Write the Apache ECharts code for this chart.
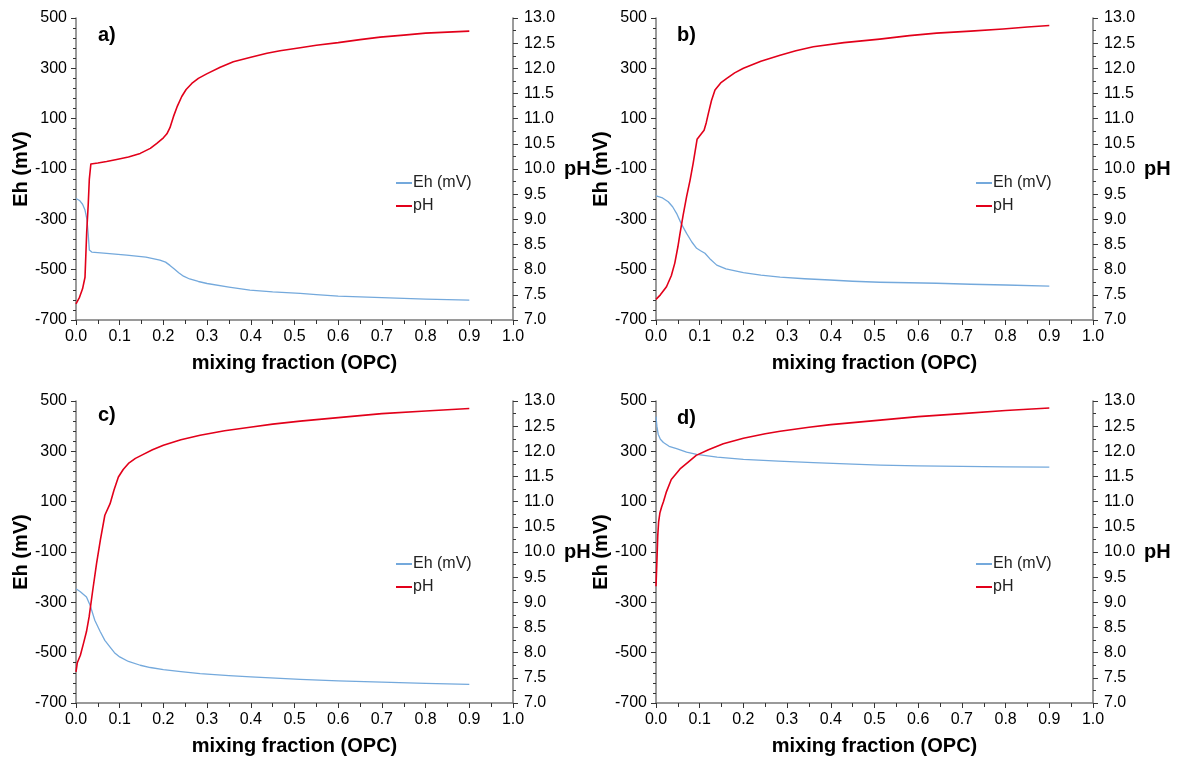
<!DOCTYPE html>
<html><head><meta charset="utf-8">
<script src="https://cdn.jsdelivr.net/npm/echarts@6/dist/echarts.min.js"></script>
<style>html,body{margin:0;padding:0;background:#fff}#c{width:1178px;height:760px}</style>
</head><body><div id="c"></div>
<script>
// ---------- data (mixing fraction, Eh in mV, pH) ----------
const aEhX = [0,0.008,0.015,0.0206,0.025,0.028,0.0305,0.036,0.07,0.116,0.16,0.192,0.205,0.215,0.225,0.235,0.246,0.26,0.28,0.3,0.35,0.398,0.45,0.513,0.55,0.6,0.7,0.8,0.9];
const aEh  = [-217,-225,-240,-263,-300,-360,-422,-430,-435,-442,-450,-462,-470,-483,-497,-512,-526,-537,-547,-555,-569,-581,-588,-594,-599,-605,-611,-617,-621];
const aPhX = [0,0.008,0.015,0.0206,0.0245,0.028,0.0305,0.034,0.05,0.07,0.093,0.12,0.147,0.17,0.185,0.2,0.208,0.215,0.223,0.232,0.242,0.252,0.265,0.28,0.299,0.33,0.36,0.4,0.437,0.467,0.513,0.55,0.6,0.65,0.696,0.75,0.8,0.85,0.9];
const aPh  = [7.32,7.45,7.62,7.85,8.75,9.3,9.8,10.10,10.12,10.15,10.19,10.24,10.31,10.41,10.51,10.62,10.70,10.82,11.04,11.25,11.44,11.58,11.70,11.80,11.89,12.02,12.13,12.22,12.30,12.35,12.41,12.46,12.51,12.57,12.62,12.66,12.70,12.72,12.74];

const bEhX = [0,0.015,0.028,0.038,0.047,0.058,0.07,0.082,0.093,0.102,0.112,0.125,0.139,0.16,0.2,0.24,0.284,0.34,0.398,0.45,0.512,0.58,0.642,0.72,0.8,0.9];
const bEh  = [-207,-215,-230,-250,-276,-318,-356,-390,-415,-425,-435,-460,-482,-497,-512,-522,-530,-536,-541,-546,-550,-552,-554,-558,-561,-565];
const bPhX = [0,0.01,0.024,0.035,0.043,0.05,0.055,0.062,0.07,0.078,0.085,0.094,0.102,0.11,0.115,0.12,0.127,0.135,0.148,0.162,0.18,0.2,0.24,0.284,0.32,0.36,0.43,0.512,0.58,0.642,0.72,0.794,0.85,0.9];
const bPh  = [7.41,7.5,7.66,7.88,8.13,8.45,8.72,9.08,9.45,9.78,10.11,10.59,10.68,10.77,10.92,11.11,11.36,11.57,11.71,11.80,11.91,12.00,12.14,12.26,12.35,12.43,12.51,12.58,12.65,12.70,12.74,12.78,12.82,12.85];

const cEhX = [0,0.01,0.024,0.033,0.043,0.055,0.066,0.078,0.088,0.1,0.12,0.147,0.17,0.2,0.24,0.284,0.35,0.4,0.513,0.6,0.7,0.8,0.9];
const cEh  = [-246,-258,-279,-315,-371,-415,-451,-478,-500,-517,-535,-550,-559,-567,-575,-583,-591,-596,-606,-612,-617,-622,-626];
const cPhX = [0,0.003,0.01,0.017,0.024,0.03,0.038,0.047,0.056,0.066,0.078,0.087,0.097,0.108,0.12,0.136,0.154,0.175,0.2,0.24,0.284,0.34,0.398,0.45,0.513,0.6,0.7,0.8,0.9];
const cPh  = [7.62,7.8,7.95,8.18,8.42,8.71,9.22,9.77,10.25,10.73,10.96,11.23,11.49,11.64,11.76,11.86,11.94,12.03,12.12,12.23,12.32,12.41,12.48,12.54,12.60,12.67,12.75,12.80,12.85];

const dEhX = [0,0.002,0.005,0.01,0.017,0.03,0.047,0.07,0.093,0.14,0.2,0.28,0.36,0.45,0.513,0.6,0.7,0.8,0.9];
const dEh  = [438,400,368,348,335,320,311,297,288,277,268,261,255,249,245,242,240,238,237];
const dPhX = [0,0.002,0.004,0.006,0.009,0.013,0.017,0.024,0.035,0.055,0.073,0.092,0.12,0.154,0.2,0.25,0.284,0.35,0.4,0.513,0.6,0.7,0.8,0.9];
const dPh  = [9.32,9.8,10.32,10.6,10.78,10.9,11.0,11.2,11.44,11.65,11.78,11.92,12.03,12.15,12.26,12.35,12.40,12.48,12.53,12.62,12.69,12.75,12.81,12.86];

const panelLabels = ['a)','b)','c)','d)'];
const seriesNames = ['Eh (mV)','pH'];
const ehTicks = [-700,-500,-300,-100,100,300,500];
const ehMinorTicks = [-660,-620,-580,-540,-460,-420,-380,-340,-260,-220,-180,-140,-60,-20,20,60,140,180,220,260,340,380,420,460];
const xTitle = 'mixing fraction (OPC)';
const ehTitle = 'Eh (mV)';
const phTitle = 'pH';

// ---------- layout ----------
const FONT = '"Liberation Sans", Arial, sans-serif';
const BLUE = '#74a9dc', RED = '#e2001a', AX = '#7a7a7a', TK = '#333';
const geo = [
  {left:391, top:18, lx:391, ly:170, tx:98, ty:25},
  {left:656, top:18, lx:971, ly:170, tx:677, ty:25},
  {left:76, top:401, lx:391, ly:551, tx:98, ty:405},
  {left:656, top:401, lx:971, ly:551, tx:677, ty:408}
];
geo[0].left = 76;
const W = 437, H = 302;
const dataSets = [[aEhX,aEh,aPhX,aPh],[bEhX,bEh,bPhX,bPh],[cEhX,cEh,cPhX,cPh],[dEhX,dEh,dPhX,dPh]];
const zip = (xs, ys) => xs.map((x,i) => [x, ys[i]]);

const grid=[], xAxis=[], yAxis=[], series=[], legend=[], graphic=[];
geo.forEach((g,i) => {
  grid.push({left:g.left, top:g.top, width:W, height:H, containLabel:false});
  xAxis.push({
    type:'value', gridIndex:i, min:0, max:1, interval:0.1,
    name:xTitle, nameLocation:'middle', nameGap:33,
    nameTextStyle:{fontFamily:FONT, fontSize:20, fontWeight:'bold', color:'#000'},
    axisLine:{show:true, onZero:false, lineStyle:{color:AX, width:1.5}},
    axisTick:{show:true, length:5, lineStyle:{color:TK}},
    minorTick:{show:true, splitNumber:2, length:4, lineStyle:{color:TK}},
    splitLine:{show:false},
    axisLabel:{fontFamily:FONT, fontSize:16, color:'#000', margin:9, formatter:v=>v.toFixed(1)}
  });
  const base = yAxis.length;
  yAxis.push({
    type:'value', gridIndex:i, position:'left', min:-700, max:500, interval:20,
    name:ehTitle, nameLocation:'middle', nameGap:45,
    nameTextStyle:{fontFamily:FONT, fontSize:20, fontWeight:'bold', color:'#000'},
    axisLine:{show:true, onZero:false, lineStyle:{color:AX, width:1.5}},
    axisTick:{show:true, length:5, customValues:ehTicks, lineStyle:{color:TK}},
    splitLine:{show:false},
    axisLabel:{fontFamily:FONT, fontSize:16, color:'#000', margin:9, customValues:ehTicks}
  });
  yAxis.push({
    type:'value', gridIndex:i, position:'left', min:-700, max:500, interval:20,
    axisLine:{show:false},
    axisTick:{show:true, length:3, customValues:ehMinorTicks, lineStyle:{color:TK}},
    splitLine:{show:false},
    axisLabel:{show:false}
  });
  yAxis.push({
    type:'value', gridIndex:i, position:'right', min:7, max:13, interval:0.5,
    name:phTitle, nameLocation:'middle', nameGap:51, nameRotate:0,
    nameTextStyle:{fontFamily:FONT, fontSize:20, fontWeight:'bold', color:'#000'},
    axisLine:{show:true, onZero:false, lineStyle:{color:AX, width:1.5}},
    axisTick:{show:true, length:5, lineStyle:{color:TK}},
    minorTick:{show:true, splitNumber:2, length:3, lineStyle:{color:TK}},
    splitLine:{show:false},
    axisLabel:{fontFamily:FONT, fontSize:16, color:'#000', margin:11, formatter:v=>v.toFixed(1)}
  });
  const [ex,ey,px,py] = dataSets[i];
  series.push({
    name:seriesNames[0], type:'line', xAxisIndex:i, yAxisIndex:base,
    data:zip(ex,ey), showSymbol:false, symbol:'none', smooth:false,
    lineStyle:{color:BLUE, width:1.3, join:'round'}, itemStyle:{color:BLUE}, z:2
  });
  series.push({
    name:seriesNames[1], type:'line', xAxisIndex:i, yAxisIndex:base+2,
    data:zip(px,py), showSymbol:false, symbol:'none', smooth:false,
    lineStyle:{color:RED, width:1.6, join:'round'}, itemStyle:{color:RED}, z:3
  });
  legend.push({
    left:g.lx, top:g.ly, orient:'vertical', itemGap:7, itemWidth:16, itemHeight:2,
    icon:'rect', selectedMode:false,
    textStyle:{fontFamily:FONT, fontSize:16, color:'#222', padding:[0,0,0,-4]},
    data:seriesNames
  });
  graphic.push({
    type:'text', left:g.tx, top:g.ty,
    style:{text:panelLabels[i], fontFamily:FONT, fontSize:20, fontWeight:'bold', fill:'#000'}
  });
});

const chart = echarts.init(document.getElementById('c'), null, {renderer:'canvas'});
chart.setOption({
  backgroundColor:'#fff', animation:false,
  grid, xAxis, yAxis, series, legend, graphic
});
</script>
</body></html>
